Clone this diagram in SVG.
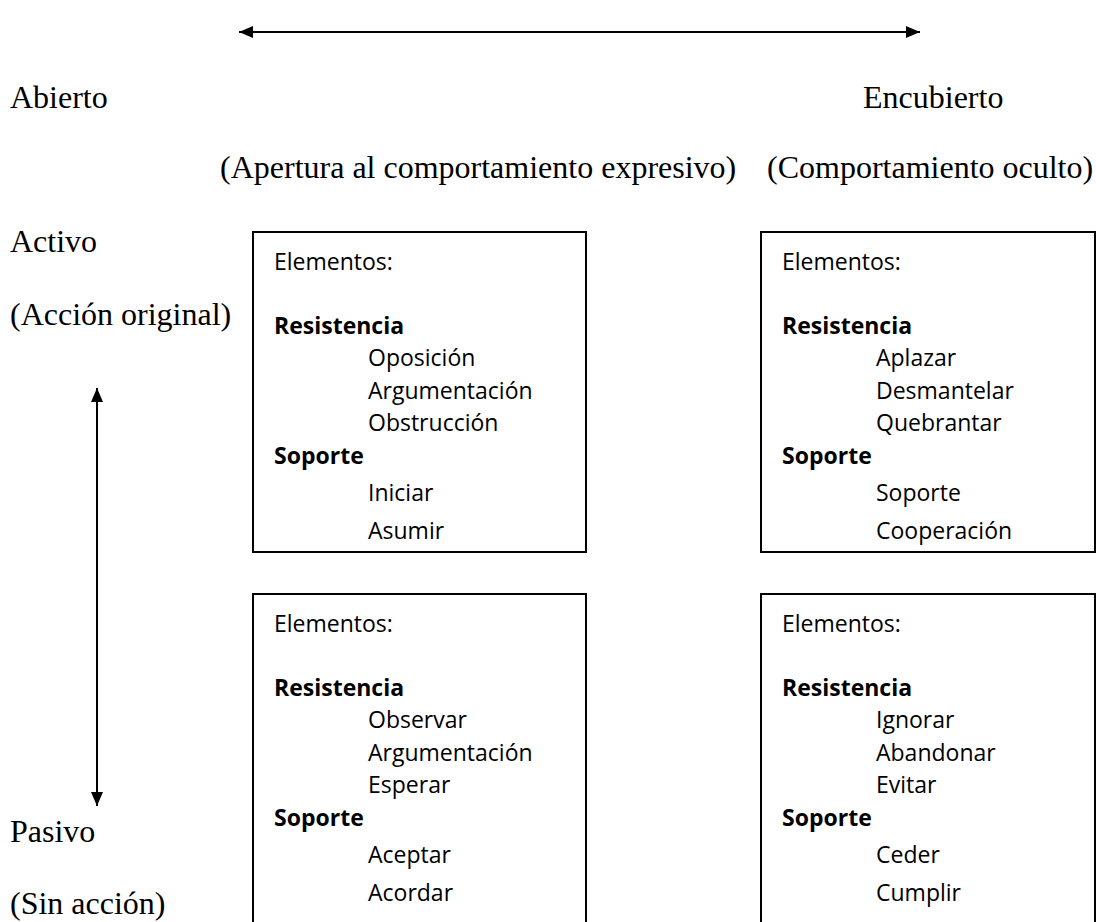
<svg xmlns="http://www.w3.org/2000/svg" width="1096" height="922" viewBox="0 0 1096 922">
<defs>
<marker id="ah" markerWidth="14" markerHeight="12" refX="14" refY="6" orient="auto-start-reverse" markerUnits="userSpaceOnUse">
<path d="M0,0 L14,6 L0,12 z" fill="#000"/>
</marker>
<style>
.serif{font-family:"Liberation Serif","Times New Roman",serif;font-size:32px;fill:#000}
.box{fill:#fff;stroke:#000;stroke-width:2}
.t{font-family:"Open Sans","Liberation Sans",sans-serif;font-size:23px;fill:#000}
.b{font-weight:700}
.conn{stroke:#000;stroke-width:2;fill:none;marker-start:url(#ah);marker-end:url(#ah)}
</style>
</defs>
<rect width="1096" height="922" fill="#fff"/>
<g id="connectors">
<line class="conn" x1="239" y1="32" x2="920" y2="32"/>
<line class="conn" x1="97" y1="388" x2="97" y2="806"/>
</g>
<g id="label-abierto"><text class="serif" x="10" y="108">Abierto</text></g>
<g id="label-encubierto"><text class="serif" x="863" y="108">Encubierto</text></g>
<g id="label-apertura"><text class="serif" x="220" y="178">(Apertura al comportamiento expresivo)</text></g>
<g id="label-oculto"><text class="serif" x="767" y="178">(Comportamiento oculto)</text></g>
<g id="label-activo"><text class="serif" x="10" y="252">Activo</text><text class="serif" x="10" y="325">(Acción original)</text></g>
<g id="label-pasivo"><text class="serif" x="10" y="842">Pasivo</text><text class="serif" x="10" y="914">(Sin acción)</text></g>

<g id="box-abierto-activo">
<rect class="box" x="253" y="232" width="333" height="320"/>
<text class="t" x="274" y="270">Elementos:</text>
<text class="t b" x="274" y="334">Resistencia</text>
<text class="t" x="368" y="366">Oposición</text>
<text class="t" x="368" y="399">Argumentación</text>
<text class="t" x="368" y="431">Obstrucción</text>
<text class="t b" x="274" y="464">Soporte</text>
<text class="t" x="368" y="501">Iniciar</text>
<text class="t" x="368" y="539">Asumir</text>
</g>
<g id="box-encubierto-activo">
<rect class="box" x="761" y="232" width="334" height="320"/>
<text class="t" x="782" y="270">Elementos:</text>
<text class="t b" x="782" y="334">Resistencia</text>
<text class="t" x="876" y="366">Aplazar</text>
<text class="t" x="876" y="399">Desmantelar</text>
<text class="t" x="876" y="431">Quebrantar</text>
<text class="t b" x="782" y="464">Soporte</text>
<text class="t" x="876" y="501">Soporte</text>
<text class="t" x="876" y="539">Cooperación</text>
</g>
<g id="box-abierto-pasivo">
<rect class="box" x="253" y="594" width="333" height="340"/>
<text class="t" x="274" y="632">Elementos:</text>
<text class="t b" x="274" y="696">Resistencia</text>
<text class="t" x="368" y="728">Observar</text>
<text class="t" x="368" y="761">Argumentación</text>
<text class="t" x="368" y="793">Esperar</text>
<text class="t b" x="274" y="826">Soporte</text>
<text class="t" x="368" y="863">Aceptar</text>
<text class="t" x="368" y="901">Acordar</text>
</g>
<g id="box-encubierto-pasivo">
<rect class="box" x="761" y="594" width="334" height="340"/>
<text class="t" x="782" y="632">Elementos:</text>
<text class="t b" x="782" y="696">Resistencia</text>
<text class="t" x="876" y="728">Ignorar</text>
<text class="t" x="876" y="761">Abandonar</text>
<text class="t" x="876" y="793">Evitar</text>
<text class="t b" x="782" y="826">Soporte</text>
<text class="t" x="876" y="863">Ceder</text>
<text class="t" x="876" y="901">Cumplir</text>
</g>
</svg>
